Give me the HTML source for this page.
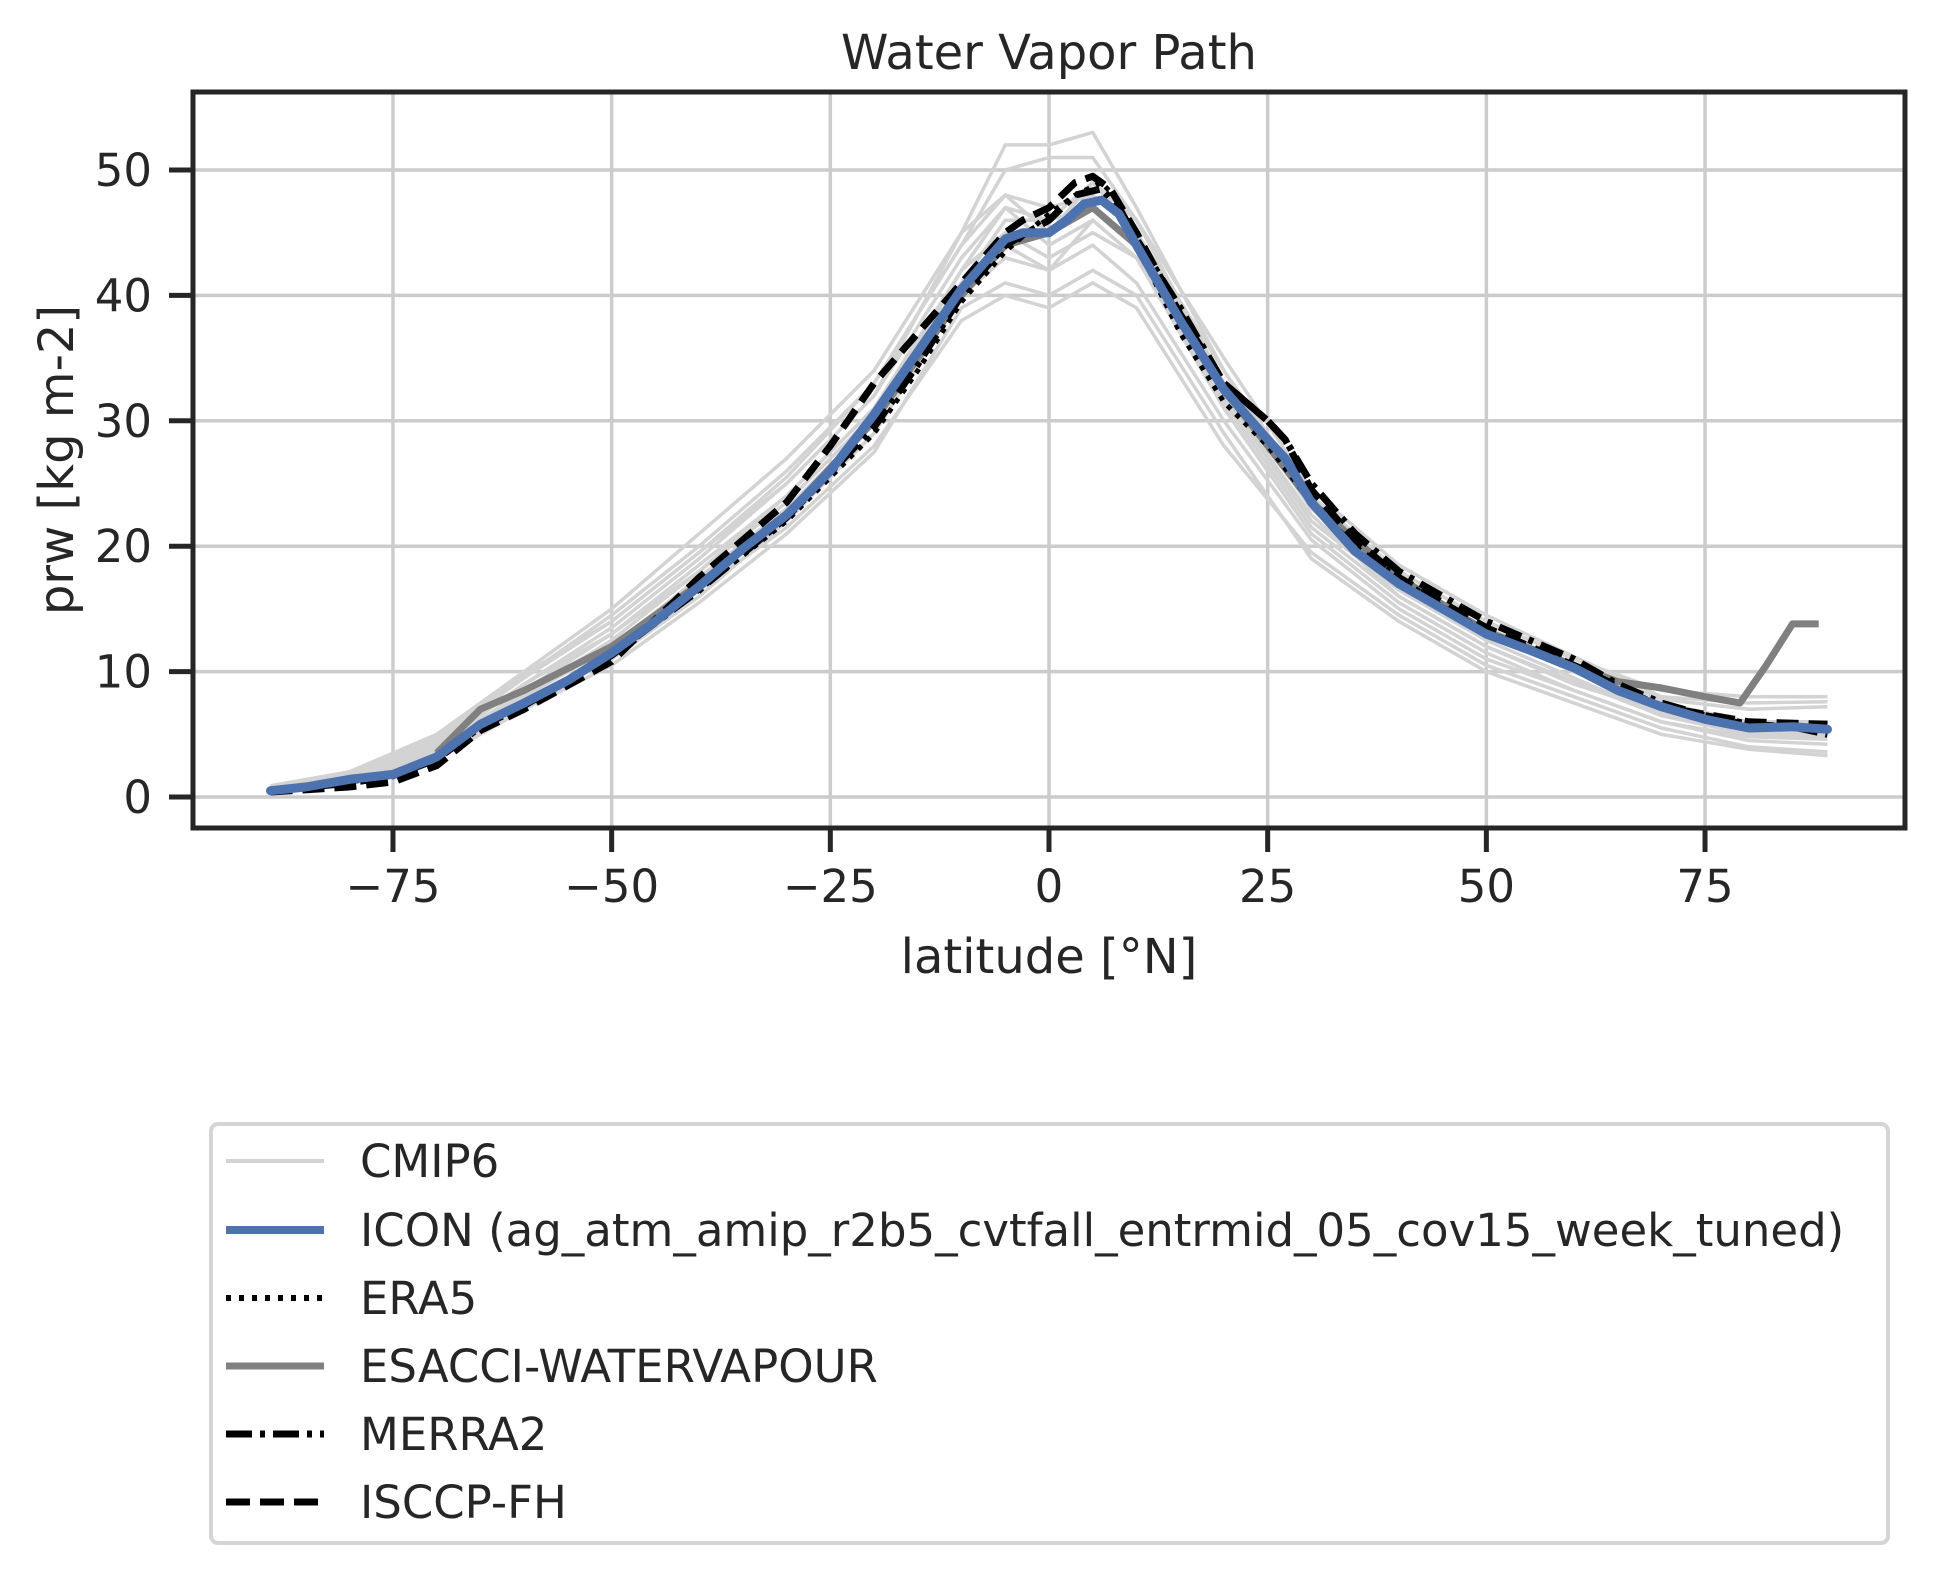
<!DOCTYPE html>
<html><head><meta charset="utf-8"><style>
html,body{margin:0;padding:0;background:#fff;}
svg{display:block;font-family:"DejaVu Sans","Liberation Sans",sans-serif;}
</style></head><body>
<svg id="chart" width="1934" height="1574" viewBox="0 0 1934 1574" xmlns="http://www.w3.org/2000/svg">
<rect width="1934" height="1574" fill="#fff"/>
<g id="grid"></g>
<g id="cmip"></g>
<g id="obs"></g>
<rect x="193" y="92" width="1712" height="736" fill="none" stroke="#262626" stroke-width="5"/>
<g id="ticks" fill="#262626" font-size="45"></g>
<text x="1049" y="69" text-anchor="middle" font-size="48" fill="#262626">Water Vapor Path</text>
<text x="1049" y="973" text-anchor="middle" font-size="48" fill="#262626">latitude [°N]</text>
<text transform="translate(73,460) rotate(-90)" text-anchor="middle" font-size="48" fill="#262626">prw [kg m-2]</text>
<g>
<rect x="211" y="1124" width="1677" height="419" rx="7" fill="#fff" stroke="#d5d5d5" stroke-width="4"/>
<g><line x1="226" y1="1161" x2="324" y2="1161" stroke="#d3d3d3" stroke-width="4"/><text x="360" y="1177" font-size="45" fill="#262626">CMIP6</text></g>
<g><line x1="226" y1="1230" x2="324" y2="1230" stroke="#4c72b0" stroke-width="8"/><text x="360" y="1246" font-size="45" fill="#262626">ICON (ag_atm_amip_r2b5_cvtfall_entrmid_05_cov15_week_tuned)</text></g>
<g><line x1="226" y1="1298" x2="324" y2="1298" stroke="#000" stroke-width="6" stroke-dasharray="5,8"/><text x="360" y="1314" font-size="45" fill="#262626">ERA5</text></g>
<g><line x1="226" y1="1366" x2="324" y2="1366" stroke="#808080" stroke-width="7"/><text x="360" y="1382" font-size="45" fill="#262626">ESACCI-WATERVAPOUR</text></g>
<g><line x1="226" y1="1434" x2="324" y2="1434" stroke="#000" stroke-width="7" stroke-dasharray="26,8,5,8"/><text x="360" y="1450" font-size="45" fill="#262626">MERRA2</text></g>
<g><line x1="226" y1="1502" x2="324" y2="1502" stroke="#000" stroke-width="7" stroke-dasharray="24,10"/><text x="360" y="1518" font-size="45" fill="#262626">ISCCP-FH</text></g>
</g>
</svg>
<script>
const xTicks = [-75,-50,-25,0,25,50,75];
const xTickLabels = ["\u221275","\u221250","\u221225","0","25","50","75"];
const yTicks = [0,10,20,30,40,50];
const yTickLabels = ["0","10","20","30","40","50"];

const cmipLat = [-89,-80,-70,-60,-50,-40,-30,-20,-10,-5,0,5,10,20,30,40,50,60,70,80,89];
const cmip1 = [0.6,1.5,3.8,8.5,13,18.5,24,31,41,46,46,47,44,32,22,16.5,12.5,9.5,6.5,5,4.8];
const cmip2 = [0.8,1.8,4.5,9.5,14,19.5,25.5,33,44,50,51,51,46,33,23,17.5,13,10,7.5,6,6];
const cmip3 = [0.5,1.3,3.2,7.5,11.5,16.5,21.5,28,38,40,39,41,39,28,19.5,14.5,10.5,8,5.5,4,3.6];
const cmip4 = [0.7,1.6,4,9,13.5,19,25,32,45,52,52,53,47,34,24,18,14,11,8.5,8,8];
const cmip5 = [0.6,1.4,3.5,8,12,17.5,23,30,42,47,44,46,43,31,21,15.5,11.5,8.5,6,4.5,4.2];
const cmip6 = [0.9,2,5,10,15,21,27,34,45,48,47,48,45,33,23.5,17,13,10,7,5.5,5.5];
const cmip7 = [0.5,1.2,3,7.5,11,16,22,29,40,43,42,44,41,30,20.5,15,11,8.5,6,4.8,4.6];
const cmip8 = [0.7,1.5,4.2,9,13,18,24,31,42,45,43,45,43,32,22.5,16,12,9,6.8,5.2,5];
const cmip9 = [0.6,1.7,4.5,9.8,14,19.5,25,32,43,47,46,49,45,34,23,17,13.5,10.5,7.8,7,7.2];
const cmip10 = [0.4,1.1,3,7,10.5,15.5,21,27.5,39,41,40,42,40,29,19,14,10,7.5,5,3.8,3.3];
const cmip11 = [0.8,1.8,4.8,9.6,14.5,20,26,33,44,48,45,49,46,35,24.5,18.5,14.5,11.2,8,7.5,7.6];
const cmip12 = [0.6,1.4,3.8,8.2,12.5,18,23.5,30.5,41,44,42,46,43,31.5,21.5,16,12,9.2,6.5,5,4.7];
const cmipSeries = [cmip1,cmip2,cmip3,cmip4,cmip5,cmip6,cmip7,cmip8,cmip9,cmip10,cmip11,cmip12];

const iconLat = [-89,-85,-80,-75,-70,-65,-60,-55,-50,-45,-40,-35,-30,-25,-20,-15,-10,-5,-3,0,2,4,6,8,10,15,20,25,27,30,35,40,45,50,55,60,65,70,75,80,85,89];
const iconVal = [0.5,0.8,1.4,1.8,3.2,5.8,7.5,9.3,11.5,14,16.8,19.8,22.5,26,30.5,35.5,40.5,44.5,45,45,46,47.3,47.6,46.5,44,38,32.5,28.5,27,23.5,19.6,17,15,13,11.7,10.3,8.5,7.2,6.2,5.5,5.6,5.4];

const era5Lat = [-89,-80,-75,-70,-65,-60,-50,-40,-30,-20,-15,-10,-5,0,3,6,8,10,15,20,25,30,35,40,45,50,60,70,80,89];
const era5Val = [0.5,1.2,1.7,3,5.7,7.4,11.4,16.5,22,29,34,39.5,43.5,46.5,48,49,47.5,44,37,31.5,28,23.5,20,17.5,15.2,13.2,10.5,7.3,5.8,5.6];

const esaLat = [-70,-65,-60,-50,-40,-30,-20,-10,-5,0,5,10,20,30,40,50,60,65,70,75,79,82,85,86,88];
const esaVal = [3.5,7,8.5,12,17,22.5,30,40,44,45,47,44,32.5,23.5,17.5,13.2,10.5,9.2,8.7,8,7.5,10.5,13.8,13.8,13.8];

const merraLat = [-89,-80,-75,-70,-65,-60,-50,-40,-30,-20,-15,-10,-5,0,3,6,8,10,15,20,25,27,30,35,40,45,50,55,60,65,70,75,80,85,89];
const merraVal = [0.5,1.1,1.7,3,5.6,7.3,11.3,16.5,22.3,29.5,34.5,40,44,46,48,48.5,47,44.5,39,33,30,28.5,25,21,18,16,14,12.5,11,9,7.5,6.5,5.8,5.6,5];

const isccpLat = [-89,-80,-75,-70,-65,-60,-50,-40,-30,-25,-20,-15,-10,-5,-3,0,3,5,7,10,15,20,25,27,30,35,40,45,50,60,70,80,89];
const isccpVal = [0.4,0.8,1.2,2.5,5.3,7,10.8,17.5,23.5,28,33,37,41,45,46,47,49,49.5,48.5,45,38.5,33,30,28.5,24.5,20.5,17.5,15.5,13.5,10.5,7.2,6,5.8];

const xScale = lat => 1049 + lat * 8.747;
const yScale = v => 797 - v * 12.54;
const NS = "http://www.w3.org/2000/svg";

const grid = document.getElementById('grid');
const ticks = document.getElementById('ticks');
xTicks.forEach((t,i) => {
  const x = xScale(t);
  const g = document.createElementNS(NS,'line');
  
  
  g.setAttribute('x1',x);g.setAttribute('x2',x);g.setAttribute('y1',92);g.setAttribute('y2',828);
  g.setAttribute('stroke','#cccccc');g.setAttribute('stroke-width','3.5');
  grid.appendChild(g);
  const tk = document.createElementNS(NS,'line');
  
  
  tk.setAttribute('x1',x);tk.setAttribute('x2',x);tk.setAttribute('y1',828);tk.setAttribute('y2',852);
  tk.setAttribute('stroke','#262626');tk.setAttribute('stroke-width','5');
  ticks.appendChild(tk);
  const tx = document.createElementNS(NS,'text');
  
  
  tx.setAttribute('x',x);tx.setAttribute('y',902);tx.setAttribute('text-anchor','middle');
  tx.textContent = xTickLabels[i];
  ticks.appendChild(tx);
});
yTicks.forEach((t,i) => {
  const y = yScale(t);
  const g = document.createElementNS(NS,'line');
  
  
  g.setAttribute('x1',193);g.setAttribute('x2',1905);g.setAttribute('y1',y);g.setAttribute('y2',y);
  g.setAttribute('stroke','#cccccc');g.setAttribute('stroke-width','3.5');
  grid.appendChild(g);
  const tk = document.createElementNS(NS,'line');
  
  
  tk.setAttribute('x1',169);tk.setAttribute('x2',193);tk.setAttribute('y1',y);tk.setAttribute('y2',y);
  tk.setAttribute('stroke','#262626');tk.setAttribute('stroke-width','5');
  ticks.appendChild(tk);
  const tx = document.createElementNS(NS,'text');
  
  
  tx.setAttribute('x',152);tx.setAttribute('y',y+16);tx.setAttribute('text-anchor','end');
  tx.textContent = yTickLabels[i];
  ticks.appendChild(tx);
});

function pts(lats, vals){ return lats.map((l,i)=>xScale(l).toFixed(1)+','+yScale(vals[i]).toFixed(1)).join(' '); }
function addLine(parent, lats, vals, color, w, dash){
  const p = document.createElementNS(NS,'polyline');
  p.setAttribute('points', pts(lats, vals));
  p.setAttribute('fill','none');p.setAttribute('stroke',color);p.setAttribute('stroke-width',w);
  p.setAttribute('stroke-linejoin','round');
  if (dash) p.setAttribute('stroke-dasharray',dash);
  parent.appendChild(p);
  return p;
}
const cm = document.getElementById('cmip');
cmipSeries.forEach(s => {
  const p = addLine(cm, cmipLat, s, '#d3d3d3', 3.5);
  
  
});
const obs = document.getElementById('obs');
let p;
p = addLine(obs, esaLat, esaVal, '#808080', 7);


p = addLine(obs, isccpLat, isccpVal, '#000', 7, '22,10');


p = addLine(obs, merraLat, merraVal, '#000', 7, '24,8,5,8');


p = addLine(obs, era5Lat, era5Val, '#000', 5, '5,7');


p = addLine(obs, iconLat, iconVal, '#4c72b0', 9);
p.setAttribute('stroke-linecap','round');


</script>
</body></html>
